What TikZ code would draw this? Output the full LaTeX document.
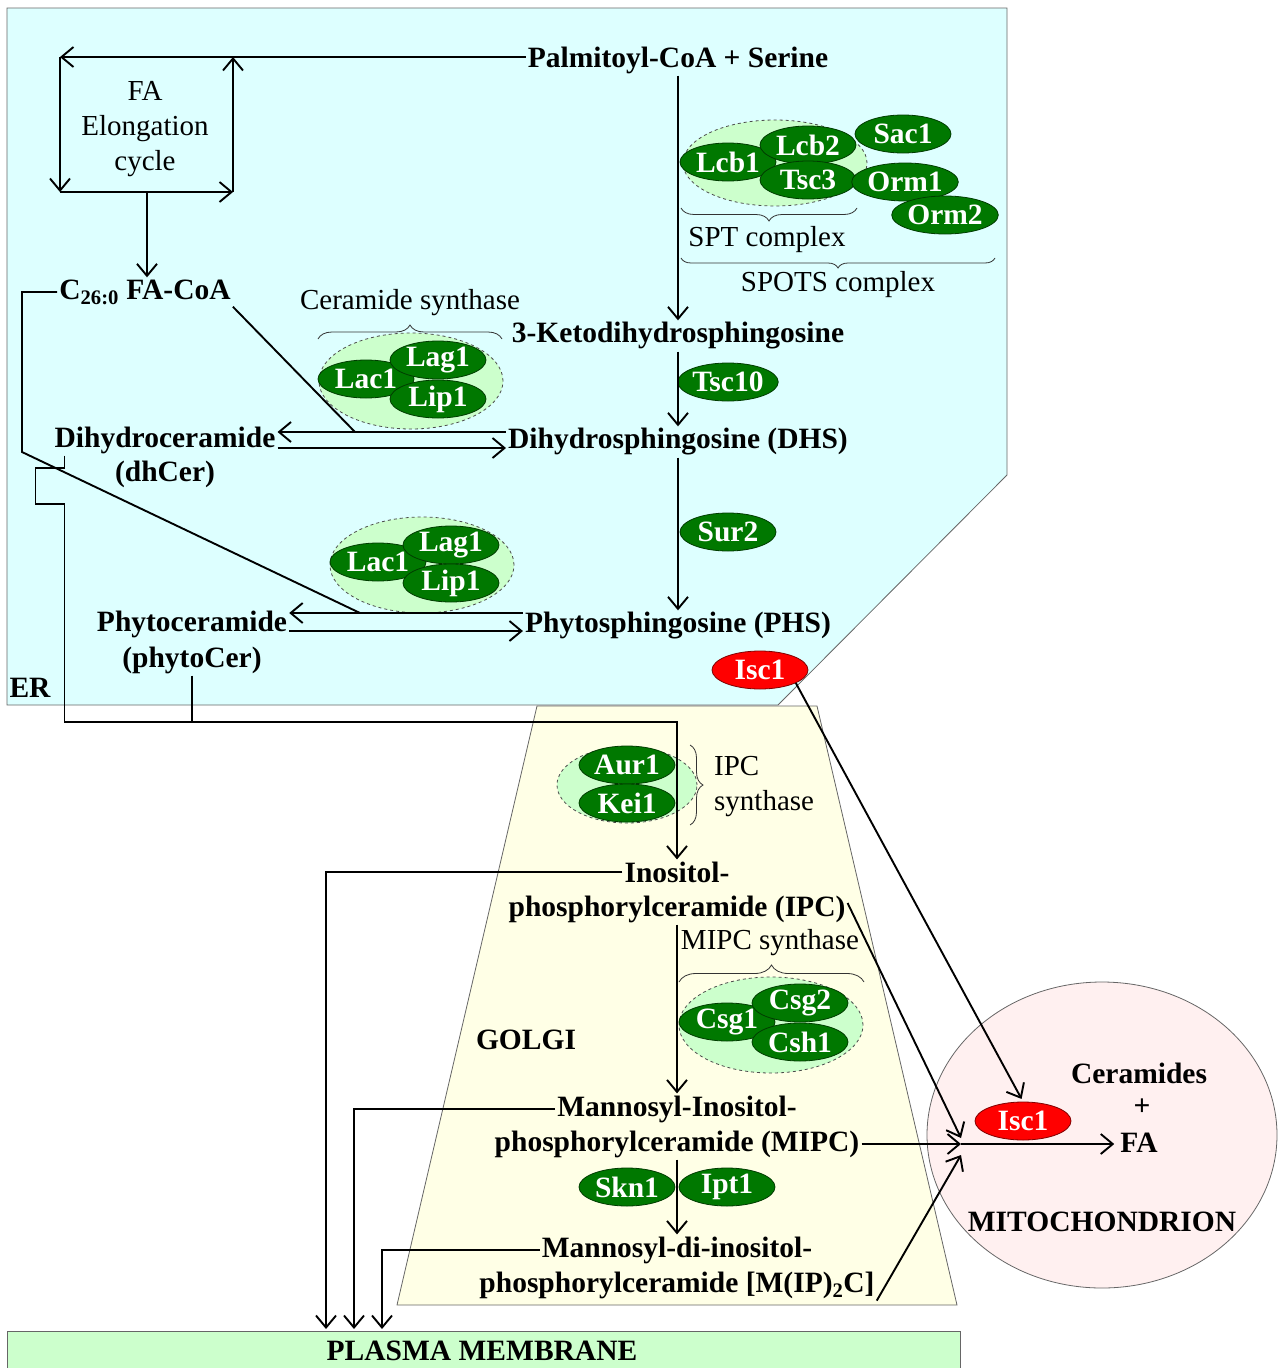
\documentclass[tikz,border=0pt]{standalone}
\usepackage{fontspec}
\setmainfont{Liberation Serif}
\usetikzlibrary{shapes.geometric,arrows.meta,decorations.pathreplacing,calc}

\definecolor{ercol}{HTML}{DDFFFF}
\definecolor{golgicol}{HTML}{FFFFE6}
\definecolor{pmcol}{HTML}{CCFFCC}
\definecolor{mitocol}{HTML}{FFF0F0}
\definecolor{enzgreen}{HTML}{007800}
\definecolor{enzedge}{HTML}{003C00}
\definecolor{cplxcol}{HTML}{CCFFCC}
\definecolor{isccol}{HTML}{FF0000}

\begin{document}
\begin{tikzpicture}[x=1pt,y=-1pt,
  lbl/.style={font=\fontsize{29.5}{35}\selectfont\bfseries, inner sep=2pt},
  plain/.style={font=\fontsize{29}{35}\selectfont, inner sep=2pt},
  enz/.style={ellipse, draw=enzedge, line width=0.8pt, fill=enzgreen, text=white,
    font=\fontsize{29.5}{35}\selectfont\bfseries, minimum width=96pt, minimum height=38pt, inner sep=0pt},
  hyd/.style={enz, fill=isccol, draw=isccol!50!black},
  cplx/.style={ellipse, draw=black!70, dashed, fill=cplxcol, line width=0.8pt, inner sep=0pt},
  ln/.style={line width=1.9pt},
  arr/.style={line width=1.9pt, -{Straight Barb[length=12pt, width=20pt, line width=1.9pt]}},
  brc/.style={decorate, line width=0.8pt, draw=black!80},
  wall/.style={draw=black!60, line width=0.8pt}
]
\useasboundingbox (0,0) rectangle (1281,1368);

% ---------- compartments ----------
\filldraw[wall, fill=ercol] (7,8) -- (1007,8) -- (1007,475) -- (778,705) -- (7,705) -- cycle;
\filldraw[wall, fill=golgicol] (537,706) -- (817,706) -- (957,1305) -- (397,1305) -- cycle;
\node[ellipse, wall, fill=mitocol, minimum width=350pt, minimum height=306pt, inner sep=0pt] (mito) at (1102,1135) {};
\filldraw[wall, fill=pmcol] (7,1331) rectangle (960,1375);

\node[lbl] (er) at (30,688) {ER};
\node[lbl] (golgi) at (526,1040) {GOLGI};
\node[lbl] (mitolbl) at (1102,1222) {MITOCHONDRION};
\node[lbl] (pmlbl) at (482,1351) {PLASMA MEMBRANE};

% ---------- metabolites ----------
\node[lbl] (pal) at (678,60) {Palmitoyl-CoA\ + Serine};
\node[lbl] (keto) at (678,336) {3-Ketodihydrosphingosine};
\node[lbl] (dhs) at (678,442) {Dihydrosphingosine (DHS)};
\node[lbl] (phs) at (678,626) {Phytosphingosine (PHS)};
\node[lbl] (c26) at (145,292) {C\textsubscript{26:0} FA-CoA};
\node[lbl] (dhcer1) at (165,440) {Dihydroceramide};
\node[lbl] (dhcer2) at (165,474) {(dhCer)};
\node[lbl] (phycer1) at (192,624) {Phytoceramide};
\node[lbl] (phycer2) at (192,660) {(phytoCer)};
\node[lbl] (ipc1) at (677,872) {Inositol-};
\node[lbl] (ipc2) at (677,909) {phosphorylceramide (IPC)};
\node[lbl] (mipc1) at (677,1109) {Mannosyl-Inositol-};
\node[lbl] (mipc2) at (677,1144) {phosphorylceramide (MIPC)};
\node[lbl] (m2c1) at (677,1250) {Mannosyl-di-inositol-};
\node[lbl] (m2c2) at (677,1285) {phosphorylceramide [M(IP)\textsubscript{2}C]};
\node[lbl] (cer) at (1139,1073) {Ceramides};
\node[lbl] (plus) at (1142,1107) {+};
\node[lbl] (fa) at (1139,1143) {FA};

% ---------- FA elongation cycle ----------
\node[plain, align=center] (facyc) at (145,129) {FA\\Elongation\\cycle};
\coordinate (tl) at (60,57);
\coordinate (tr) at (233,57);
\coordinate (bl) at (60,192);
\coordinate (br) at (233,192);
\coordinate (bm) at (147,192);
\draw[arr] (pal.west |- tl) -- (tl);
\draw[arr] (tl) -- (bl);
\draw[arr] (bl) -- (br);
\draw[arr] (br) -- (tr);
\draw[arr] (bm) -- (bm |- c26.north);

% ---------- SPT / SPOTS complex ----------
\node[cplx, minimum width=184pt, minimum height=86pt] (spt) at (775,163) {};
\node[enz] (lcb1) at (728,162) {Lcb1};
\node[enz] (lcb2) at (808,145) {Lcb2};
\node[enz] (tsc3) at (808,180) {Tsc3};
\node[enz] (sac1) at (903,134) {Sac1};
\node[enz] (orm1) at (905,182) {Orm1};
\node[enz] (orm2) at (945,215) {Orm2};
\draw[brc, decoration={brace, amplitude=13pt}] (857,208) -- (681,208);
\node[plain] (sptl) at (767,240) {SPT complex};
\draw[brc, decoration={brace, amplitude=10pt}] (995,258) -- (681,258);
\node[plain] (spotsl) at (838,285) {SPOTS complex};

% ---------- ceramide synthases ----------
\node[plain] (cersl) at (410,303) {Ceramide synthase};
\draw[brc, decoration={brace, amplitude=14pt}] (318,339) -- (502,339);
\node[cplx, minimum width=184pt, minimum height=96pt] (cs1) at (411,381) {};
\node[enz] (lac1a) at (366,379) {Lac1};
\node[enz] (lag1a) at (438,360) {Lag1};
\node[enz] (lip1a) at (438,399) {Lip1};

\node[cplx, minimum width=184pt, minimum height=96pt] (cs2) at (422,565) {};
\node[enz] (lac1b) at (378,562) {Lac1};
\node[enz] (lag1b) at (451,545) {Lag1};
\node[enz] (lip1b) at (451,583) {Lip1};

% ---------- other ER enzymes ----------
\node[enz] (tsc10) at (728,382) {Tsc10};
\node[enz] (sur2) at (728,532) {Sur2};
\node[hyd] (iscer) at (760,670) {Isc1};

% ---------- Golgi enzymes ----------
\node[cplx, minimum width=140pt, minimum height=76pt] (ipcs) at (627,785) {};
\node[enz] (aur1) at (627,765) {Aur1};
\node[enz] (kei1) at (627,803) {Kei1};
\draw[brc, decoration={brace, amplitude=13pt}] (690,745) -- (690,825);
\node[plain, align=left, anchor=west] (ipcsl) at (712,787) {IPC\\synthase};

\node[plain] (mipcsl) at (770,943) {MIPC synthase};
\draw[brc, decoration={brace, amplitude=17pt}] (679,982) -- (864,982);
\node[cplx, minimum width=184pt, minimum height=96pt] (mipcs) at (771,1025) {};
\node[enz] (csg1) at (727,1022) {Csg1};
\node[enz] (csg2) at (800,1003) {Csg2};
\node[enz] (csh1) at (800,1042) {Csh1};
\node[enz] (skn1) at (627,1187) {Skn1};
\node[enz] (ipt1) at (727,1187) {Ipt1};

\node[hyd] (iscm) at (1023,1121) {Isc1};

% ---------- main pathway ----------
\draw[arr] (pal.south) -- (keto.north);
\draw[arr] (keto.south) -- (dhs.north);
\draw[arr] (dhs.south) -- (phs.north);

\coordinate (dhsT) at ([yshift=10pt]dhs.west);
\coordinate (dhsB) at ([yshift=-6pt]dhs.west);
\draw[arr] (dhsT) -- (dhsT -| dhcer1.east);
\draw[arr] (dhsB -| dhcer1.east) -- (dhsB);

\coordinate (phsT) at ([yshift=13pt]phs.west);
\coordinate (phsB) at ([yshift=-5pt]phs.west);
\draw[arr] (phsT) -- (phsT -| phycer1.east);
\draw[arr] (phsB -| phycer1.east) -- (phsB);

% C26 acyl-CoA feeding both ceramide synthase reactions
\coordinate (j1) at (355,0);
\coordinate (j2) at (360,0);
\coordinate (k1) at (22,452);
\draw[ln] (c26.south east) -- (dhsT -| j1);
\draw[ln] (c26.west) -| (k1) -- (phsT -| j2);

% ceramides to the Golgi
\coordinate (bus) at (0,722);
\draw[arr] ([xshift=12pt]dhcer1.south west) coordinate (dc0) -- ++(0,12) -- ++(-29,0) -- ++(0,36) -- ++(29,0)
  -- (dc0 |- bus) -| (ipc1.north);
\draw[ln] (phycer2.south) -- (phycer2.south |- bus);

\draw[arr] (ipc2.south) -- (mipc1.north);
\draw[arr] (mipc2.south) -- (m2c1.north);

% transport to the plasma membrane
\coordinate (pmA) at (326,1329);
\coordinate (pmB) at (354,1329);
\coordinate (pmC) at (382,1329);
\draw[arr] (ipc1.west) -| (pmA);
\draw[arr] (mipc1.west) -| (pmB);
\draw[arr] (m2c1.west) -| (pmC);

% hydrolysis in the mitochondrion
\coordinate (hubx) at (961,0);
\coordinate (hub) at (mipc2.east -| hubx);
\draw[arr] ([yshift=6pt]ipc2.east) -- ([yshift=6pt]hub);
\draw[arr] (mipc2.east) -- (hub);
\draw[arr] (m2c2.south east) -- ([yshift=-11pt]hub);
\draw[arr, shorten >=4pt] (hub) -- (hub -| fa.west);
\draw[arr, shorten >=3pt] (iscer.-20) -- (iscm.north);

\end{tikzpicture}
\end{document}
